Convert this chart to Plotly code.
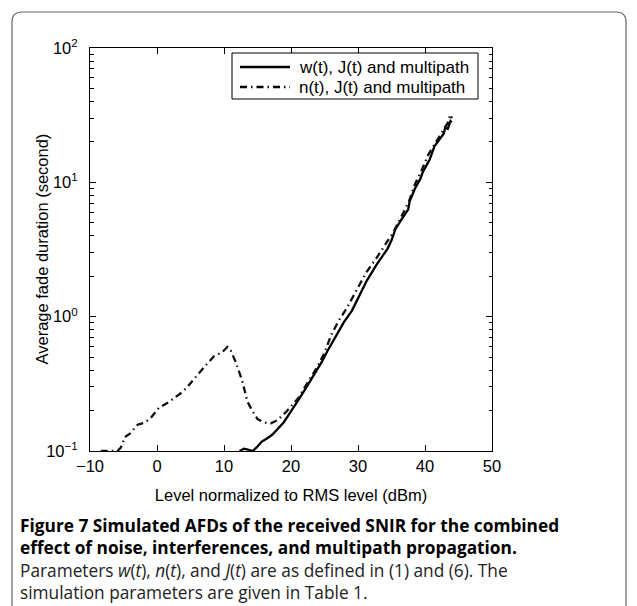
import plotly.graph_objects as go

# ---- data ----
x_w = [12.3, 13.0, 13.7, 14.3, 15.0, 15.6, 16.4, 17.2, 18.0, 18.9, 19.7, 20.5, 21.3, 22.1,
       23.0, 23.8, 24.6, 25.4, 26.6, 27.9, 29.1, 30.2, 31.3, 32.8, 34.4, 35.0, 35.6, 36.5,
       37.5, 37.7, 38.5, 39.3, 39.7, 40.7, 41.4, 42.2, 42.8, 43.0, 43.4, 43.8, 44.0]
y_w = [0.100, 0.104, 0.102, 0.100, 0.108, 0.117, 0.124, 0.132, 0.146, 0.163, 0.187, 0.213,
       0.248, 0.288, 0.34, 0.40, 0.46, 0.55, 0.70, 0.91, 1.11, 1.42, 1.85, 2.45, 3.2, 3.7,
       4.5, 5.3, 6.3, 7.2, 9.0, 10.6, 12.0, 14.8, 18.5, 21.0, 23.0, 25.4, 25.0, 28.6, 28.0]

x_n = [-8.4, -6.6, -5.9, -5.4, -4.8, -4.0, -3.4, -2.9, -2.3, -1.6, -0.9, -0.2, 0.35, 0.96,
       1.8, 2.6, 3.5, 4.4, 5.2, 5.9, 6.6, 7.3, 8.0, 8.5, 9.35, 10.0, 10.5, 11.0, 11.7, 12.7,
       13.5, 14.2, 15.0, 16.0, 17.0, 18.0, 19.26, 20.2, 21.1, 22.0, 22.9, 24.0, 25.0, 26.0,
       27.1, 28.3, 29.7, 31.3, 32.8, 34.4, 35.2, 36.0, 37.6, 38.5, 39.5, 40.5, 41.6, 42.6,
       43.4, 43.8, 44.0]
y_n = [0.1, 0.1, 0.1, 0.106, 0.127, 0.135, 0.148, 0.157, 0.160, 0.166, 0.177, 0.195, 0.212,
       0.219, 0.232, 0.249, 0.268, 0.295, 0.33, 0.364, 0.40, 0.436, 0.475, 0.507, 0.532,
       0.56, 0.595, 0.56, 0.466, 0.335, 0.233, 0.20, 0.173, 0.163, 0.161, 0.170, 0.195, 0.22,
       0.248, 0.295, 0.347, 0.43, 0.54, 0.73, 0.93, 1.15, 1.55, 2.16, 2.75, 3.6, 4.2, 5.0,
       7.2, 9.7, 12.3, 16.1, 20.0, 23.9, 27.7, 32.0, 30.0]

names = ["w(t), J(t) and multipath", "n(t), J(t) and multipath"]
x_ticks = [-10, 0, 10, 20, 30, 40, 50]
y_ticks = [0.1, 1, 10, 100]
y_ticktext = ["10<sup>−1</sup>", "10<sup>0</sup>", "10<sup>1</sup>", "10<sup>2</sup>"]
y_minor = [m * 10 ** e for e in (-1, 0, 1) for m in range(2, 10)]

x_title = "Level normalized to RMS level (dBm)"
y_title = "Average fade duration (second)"
caption_bold = ["Figure 7 Simulated AFDs of the received SNIR for the combined",
                "effect of noise, interferences, and multipath propagation."]
caption_text = ["Parameters <i>w</i>(<i>t</i>), <i>n</i>(<i>t</i>), and <i>J</i>(<i>t</i>) are as defined in (1) and (6). The",
                "simulation parameters are given in Table 1."]

W, H = 637, 606
L, R, T, B = 82, 153, 40, 163
pw, ph = W - L - R, H - T - B

def px(xp):
    return (xp - L) / pw

def py(yp):
    return (H - B - yp) / ph

FONT = "Liberation Sans, Arial, sans-serif"
CAP = "Open Sans, sans-serif"
LW = 2.3
DASH = "7px,4px,1.5px,4px"

fig = go.Figure()
fig.add_trace(go.Scatter(x=x_w, y=y_w, mode="lines", name=names[0], showlegend=False,
                         line=dict(color="black", width=LW)))
fig.add_trace(go.Scatter(x=x_n, y=y_n, mode="lines", name=names[1], showlegend=False,
                         line=dict(color="#111", width=LW, dash=DASH)))

axis_common = dict(showline=True, linecolor="black", linewidth=1, mirror="allticks",
                   ticks="inside", ticklen=6, tickcolor="black", showgrid=False,
                   zeroline=False, tickfont=dict(family=FONT, size=16.5, color="black"))

fig.update_xaxes(range=[-10, 50], tickvals=x_ticks,
                 title=dict(text=x_title, font=dict(family=FONT, size=16.5, color="black"), standoff=15),
                 **axis_common)
fig.update_yaxes(type="log", range=[-1, 2], tickvals=y_ticks, ticktext=y_ticktext,
                 ticklabelstandoff=8,
                 minor=dict(ticks="inside", ticklen=3.5, tickcolor="black", tickvals=y_minor),
                 **axis_common)

caption = "<br>".join(["<b>" + t + "</b>" for t in caption_bold] +
                      ["<span style='color:#222'>" + t + "</span>" for t in caption_text])

annotations = [
    dict(text=y_title, xref="paper", yref="paper", x=px(33), y=0.5,
         xanchor="center", yanchor="middle", textangle=-90, showarrow=False,
         font=dict(family=FONT, size=16.5, color="black")),
    dict(text=caption, xref="paper", yref="paper", x=px(10), y=py(598),
         xanchor="left", yanchor="bottom", align="left", showarrow=False,
         font=dict(family=CAP, size=17.3, color="black")),
]

# legend (drawn by hand so its compact MATLAB layout can be matched)
lx0, lx1, ly0, ly1 = 224, 470, 45, 91
rows = [59, 79]
shapes = [dict(type="rect", xref="paper", yref="paper", x0=px(lx0), x1=px(lx1),
               y0=py(ly0), y1=py(ly1), line=dict(color="black", width=1), fillcolor="white",
               layer="above")]
for i, nm in enumerate(names):
    shapes.append(dict(type="line", xref="paper", yref="paper", x0=px(232), x1=px(282),
                       y0=py(rows[i]), y1=py(rows[i]), layer="above",
                       line=dict(color="black", width=LW, dash=None if i == 0 else DASH)))
    annotations.append(dict(text=nm, xref="paper", yref="paper", x=px(289), y=py(rows[i]),
                            xanchor="left", yanchor="middle", showarrow=False,
                            font=dict(family=FONT, size=17, color="black")))

# rounded outer frame
x0, x1, y0, y1, r = px(4), px(618), py(4), py(640), 10
rx, ry = r / pw, r / ph
path = (f"M {x0+rx},{y0} L {x1-rx},{y0} Q {x1},{y0} {x1},{y0-ry} "
        f"L {x1},{y1+ry} Q {x1},{y1} {x1-rx},{y1} L {x0+rx},{y1} Q {x0},{y1} {x0},{y1+ry} "
        f"L {x0},{y0-ry} Q {x0},{y0} {x0+rx},{y0} Z")
shapes.append(dict(type="path", path=path, xref="paper", yref="paper",
                   line=dict(color="#666", width=1.2), layer="below"))

fig.update_layout(
    width=W, height=H, margin=dict(l=L, r=R, t=T, b=B),
    paper_bgcolor="white", plot_bgcolor="white",
    font=dict(family=FONT, color="black"),
    showlegend=False,
    annotations=annotations,
    shapes=shapes,
)

fig.write_html("out.html")
